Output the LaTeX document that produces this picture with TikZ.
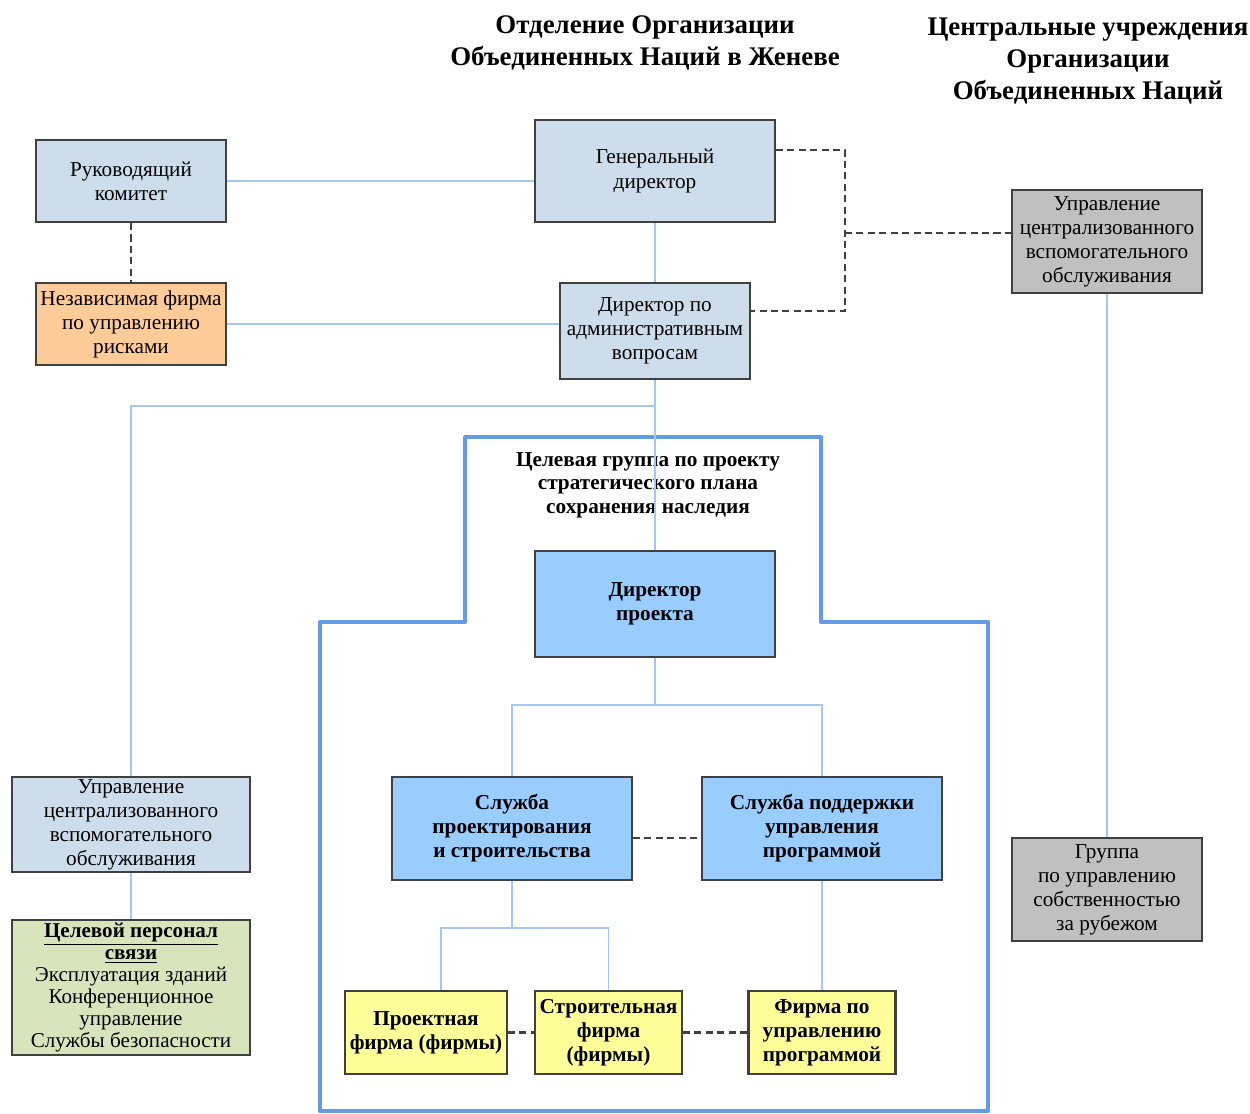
\documentclass[tikz,border=0pt]{standalone}
\usepackage{fontspec}
\setmainfont{Liberation Serif}
\usetikzlibrary{calc}

\definecolor{boxblue}{RGB}{205,221,236}
\definecolor{boxorange}{RGB}{255,204,153}
\definecolor{boxgrey}{RGB}{192,192,192}
\definecolor{boxgreen}{RGB}{216,228,188}
\definecolor{boxsky}{RGB}{153,204,255}
\definecolor{boxyellow}{RGB}{255,255,153}
\definecolor{linkblue}{RGB}{166,200,240}
\definecolor{groupblue}{RGB}{100,155,228}
\definecolor{edge}{RGB}{64,64,64}

\tikzset{
  unit/.style={draw=edge, line width=1.2pt, align=center, inner sep=1pt,
    font=\fontsize{12.1}{13.7}\selectfont},
  bunit/.style={unit, font=\fontsize{12.1}{13.7}\selectfont\bfseries},
  link/.style={draw=linkblue, line width=1.1pt},
  dlink/.style={draw=edge, line width=1.3pt, dash pattern=on 4pt off 2.5pt},
  task/.style={draw=groupblue, line width=2.3pt, line join=round},
  head/.style={align=center, font=\fontsize{15.3}{18.2}\selectfont\bfseries}
}

\begin{document}
\begin{tikzpicture}[x=0.02cm, y=-0.02cm]
    \useasboundingbox (0,0) rectangle (1250,1113);

    % titles
    \node[head] (tgeneva) at (645,43) {Отделение Организации\\Объединенных Наций в Женеве};
    \node[head] (tnewyork) at (1088,61) {Центральные учреждения\\Организации\\Объединенных Наций};

    % task force frame
    \draw[task] (465,437) -- (821,437) -- (821,622) -- (988,622) -- (988,1111)
        -- (320,1111) -- (320,622) -- (465,622) -- cycle;
    \node[align=center, font=\fontsize{12.1}{13.4}\selectfont\bfseries] (ttask) at (648,485)
        {Целевая группа по проекту\\стратегического плана\\сохранения наследия};

    % Geneva
    \node[unit, fill=boxblue, minimum width=3.8cm, minimum height=1.64cm] (rk) at (131,181) {Руководящий\\комитет};
    \node[unit, fill=boxorange, minimum width=3.8cm, minimum height=1.64cm] (nf) at (131,324) {Независимая фирма\\по управлению\\рисками};
    \node[unit, fill=boxblue, minimum width=4.8cm, minimum height=2.04cm] (gd) at (655,171) {Генеральный\\директор};
    \node[unit, fill=boxblue, minimum width=3.8cm, minimum height=1.92cm] (adm) at (655,331) {Директор по\\административным\\вопросам};
    \node[unit, fill=boxblue, minimum width=4.76cm, minimum height=1.9cm] (upl) at (131,824.5) {Управление\\централизованного\\вспомогательного\\обслуживания};
    \node[unit, fill=boxgreen, minimum width=4.76cm, minimum height=2.7cm, font=\fontsize{12}{12.6}\selectfont] (pg) at (131,987.5)
        {\textbf{\underline{Целевой персонал}}\\\textbf{\underline{связи}}\\Эксплуатация зданий\\Конференционное\\управление\\Службы безопасности};

    % New York
    \node[unit, fill=boxgrey, minimum width=3.8cm, minimum height=2.06cm] (upr) at (1107,241.5) {Управление\\централизованного\\вспомогательного\\обслуживания};
    \node[unit, fill=boxgrey, minimum width=3.8cm, minimum height=2.06cm] (grp) at (1107,889.5) {Группа\\по управлению\\собственностью\\за рубежом};

    % project
    \node[bunit, fill=boxsky, minimum width=4.8cm, minimum height=2.12cm] (pd) at (655,604) {Директор\\проекта};
    \node[bunit, fill=boxsky, minimum width=4.8cm, minimum height=2.06cm] (sp) at (512,828.5) {Служба\\проектирования\\и строительства};
    \node[bunit, fill=boxsky, minimum width=4.8cm, minimum height=2.06cm] (sps) at (822,828.5) {Служба поддержки\\управления\\программой};
    \node[bunit, fill=boxyellow, minimum width=3.24cm, minimum height=1.66cm] (pf) at (426,1032.5) {Проектная\\фирма (фирмы)};
    \node[bunit, fill=boxyellow, minimum width=2.94cm, minimum height=1.66cm] (sf) at (608.5,1032.5) {Строительная\\фирма\\(фирмы)};
    \node[bunit, fill=boxyellow, minimum width=2.94cm, minimum height=1.66cm] (fu) at (822,1032.5) {Фирма по\\управлению\\программой};

    % solid links
    \coordinate (split) at (655,406);
    \coordinate (pdj) at (655,705);
    \coordinate (spj) at (512,928);
    \draw[link] (rk.east) -- (rk.east -| gd.west);
    \draw[link] (nf.east) -- (nf.east -| adm.west);
    \draw[link] (gd.south) -- (adm.north);
    \draw[link] (adm.south) -- (split) -| (upl.north);
    \draw[link] (split) -- (pd.north);
    \draw[link] (upl.south) -- (pg.north);
    \draw[link] (pd.south) -- (pdj);
    \draw[link] (sp.north) |- (pdj) -| (sps.north);
    \draw[link] (sp.south) -- (spj);
    \draw[link] (pf.north -| 441,0) |- (spj) -| (sf.north);
    \draw[link] (sps.south) -- (fu.north);
    \draw[link] (upr.south) -- (grp.north);

    % dashed links
    \coordinate (dj) at (845,233);
    \draw[dlink] (rk.south) -- (nf.north);
    \draw[dlink] ([yshift=0.42cm]gd.east) -| (dj) |- ([yshift=0.4cm]adm.east);
    \draw[dlink] (dj) -- (dj -| upr.west);
    \draw[dlink] ([yshift=-0.19cm]sp.east) -- ([yshift=-0.19cm]sps.west);
    \draw[dlink] (pf.east) -- (sf.west);
    \draw[dlink] (sf.east) -- (fu.west);
\end{tikzpicture}
\end{document}
